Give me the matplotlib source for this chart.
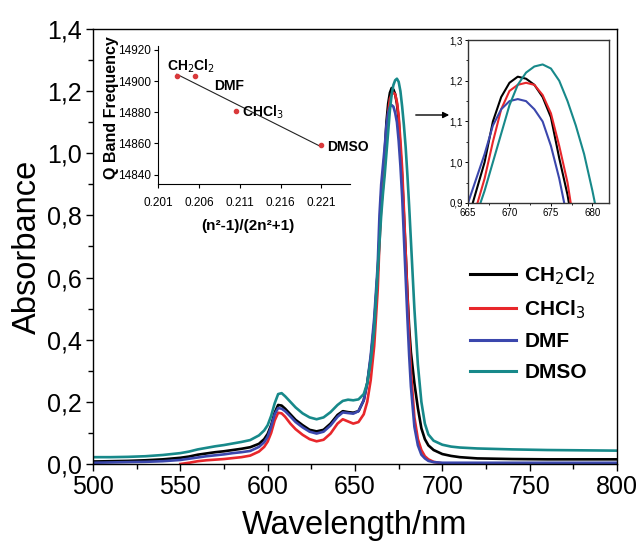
import numpy as np
import matplotlib
matplotlib.use("Agg")
import matplotlib.pyplot as plt
from matplotlib import font_manager
from matplotlib.ticker import MultipleLocator, FuncFormatter

names = {f.name for f in font_manager.fontManager.ttflist}
NARROW = 'Liberation Sans Narrow' if 'Liberation Sans Narrow' in names else 'Liberation Sans'
plt.rcParams['font.family'] = ['Liberation Sans', 'DejaVu Sans']

# ---------------- data ----------------
wavelength = [500, 510, 520, 530, 540, 550, 555, 560, 565, 570, 575, 580, 585, 590, 595,
              598, 600, 602, 604, 606, 608, 610, 613, 616, 620, 624, 628, 632, 636, 640,
              643, 646, 649, 652, 655, 657, 659, 661, 663, 664, 665, 666, 667, 668, 669,
              670, 671, 672, 673, 674, 675, 676, 677, 678, 679, 680, 681, 682, 684, 686,
              688, 690, 692, 695, 700, 705, 710, 720, 740, 760, 780, 800]

ch2cl2 = [0.008, 0.009, 0.010, 0.012, 0.015, 0.020, 0.024, 0.030, 0.034, 0.038, 0.041, 0.045, 0.049, 0.054, 0.065,
          0.080, 0.097, 0.125, 0.165, 0.190, 0.188, 0.178, 0.160, 0.142, 0.125, 0.110, 0.105, 0.110, 0.130, 0.158,
          0.170, 0.167, 0.165, 0.170, 0.205, 0.260, 0.340, 0.450, 0.620, 0.730, 0.860, 0.930, 1.000, 1.100, 1.160,
          1.195, 1.210, 1.205, 1.190, 1.160, 1.110, 1.010, 0.920, 0.800, 0.680, 0.550, 0.440, 0.360, 0.260, 0.180,
          0.115, 0.080, 0.060, 0.045, 0.032, 0.026, 0.022, 0.018, 0.016, 0.015, 0.015, 0.015]

chcl3 = [np.nan, np.nan, np.nan, np.nan, np.nan, 0.000, 0.004, 0.009, 0.012, 0.014, 0.016, 0.019, 0.022, 0.027, 0.040,
         0.055, 0.072, 0.100, 0.140, 0.165, 0.163, 0.152, 0.130, 0.112, 0.094, 0.080, 0.073, 0.078, 0.098, 0.130,
         0.144, 0.137, 0.130, 0.135, 0.160, 0.200, 0.270, 0.380, 0.560, 0.710, 0.830, 0.890, 0.960, 1.050, 1.130,
         1.175, 1.190, 1.195, 1.190, 1.165, 1.120, 1.040, 0.950, 0.820, 0.680, 0.540, 0.410, 0.300, 0.150, 0.080,
         0.045, 0.025, 0.015, 0.007, 0.002, 0.000, 0.000, np.nan, np.nan, np.nan, np.nan, np.nan]

dmf = [0.004, 0.005, 0.006, 0.007, 0.009, 0.013, 0.017, 0.021, 0.025, 0.028, 0.031, 0.035, 0.038, 0.042, 0.055,
       0.070, 0.088, 0.120, 0.160, 0.180, 0.178, 0.170, 0.153, 0.135, 0.118, 0.104, 0.098, 0.104, 0.124, 0.152,
       0.166, 0.164, 0.162, 0.170, 0.205, 0.260, 0.350, 0.470, 0.640, 0.800, 0.900, 0.960, 1.020, 1.090, 1.130,
       1.150, 1.155, 1.150, 1.130, 1.100, 1.040, 0.960, 0.860, 0.730, 0.600, 0.470, 0.350, 0.250, 0.120, 0.060,
       0.030, 0.018, 0.010, 0.006, 0.004, 0.004, 0.004, 0.004, 0.004, 0.004, 0.004, 0.004]

dmso = [0.022, 0.022, 0.023, 0.025, 0.029, 0.035, 0.040, 0.047, 0.052, 0.057, 0.061, 0.066, 0.071, 0.077, 0.092,
        0.108, 0.125, 0.155, 0.195, 0.225, 0.228, 0.218, 0.200, 0.182, 0.163, 0.150, 0.144, 0.150, 0.167, 0.190,
        0.203, 0.207, 0.205, 0.208, 0.225, 0.260, 0.330, 0.430, 0.620, 0.710, 0.800, 0.870, 0.930, 1.000, 1.070,
        1.140, 1.190, 1.220, 1.235, 1.240, 1.230, 1.200, 1.150, 1.090, 1.020, 0.930, 0.830, 0.720, 0.500, 0.320,
        0.200, 0.130, 0.095, 0.075, 0.062, 0.056, 0.053, 0.050, 0.047, 0.045, 0.044, 0.043]

series_names = ['CH$_2$Cl$_2$', 'CHCl$_3$', 'DMF', 'DMSO']
series_colors = ['#000000', '#e8272b', '#3b47ad', '#17898a']

# inset: Q band frequency vs solvent polarity function
solvents = ['CH$_2$Cl$_2$', 'DMF', 'CHCl$_3$', 'DMSO']
polarity = [0.2033, 0.2055, 0.2106, 0.2210]
q_band = [14903, 14903, 14881, 14859]
label_offsets = [(-7, 7), (14, -7), (4, -1), (4, -1.5)]

x_ticks = [500, 550, 600, 650, 700, 750, 800]
y_ticks = [0.0, 0.2, 0.4, 0.6, 0.8, 1.0, 1.2, 1.4]

# ---------------- figure ----------------
fig = plt.figure(figsize=(6.38, 5.46), dpi=100)
W, H = 638, 546

def px_axes(l, t, r, b):
    return [l / W, 1 - b / H, (r - l) / W, (b - t) / H]

ax = fig.add_axes(px_axes(93, 29, 617, 464))
comma = FuncFormatter(lambda v, p: ('%.1f' % v).replace('.', ','))

for y, c, n in zip([ch2cl2, chcl3, dmf, dmso], series_colors, series_names):
    ax.plot(wavelength, y, color=c, lw=1.9, label=n, solid_joinstyle='round')

ax.set_xlim(500, 800)
ax.set_ylim(0, 1.4)
ax.set_xticks(x_ticks)
ax.set_yticks(y_ticks)
ax.xaxis.set_minor_locator(MultipleLocator(25))
ax.yaxis.set_minor_locator(MultipleLocator(0.1))
ax.yaxis.set_major_formatter(comma)
ax.tick_params(which='major', direction='out', length=5, width=1, labelsize=18, pad=3)
ax.tick_params(which='minor', direction='out', length=3.5, width=1)
for s in ax.spines.values():
    s.set_linewidth(1.0)
ax.set_xlabel('Wavelength/nm', fontsize=23.5)
ax.set_ylabel('Absorbance', fontsize=23.5)
ax.yaxis.set_label_coords(-0.095, 0.5)
ax.xaxis.set_label_coords(0.5, -0.105)

leg = ax.legend(loc='upper left', bbox_to_anchor=((462 - 93) / 524, (464 - 256) / 435),
                frameon=False, prop={'weight': 'bold', 'size': 15},
                handlelength=2.2, handletextpad=0.4, labelspacing=0.55, borderaxespad=0)
for line in leg.get_lines():
    line.set_linewidth(2.2)

# arrow to zoomed inset
ax.annotate('', xy=(452, H - 115), xytext=(413, H - 115), xycoords='figure pixels',
            textcoords='figure pixels',
            arrowprops=dict(arrowstyle='-|>', color='black', lw=1.0, mutation_scale=9))

# ---------------- zoom inset ----------------
axz = fig.add_axes(px_axes(468, 40, 609, 203))
for y, c in zip([ch2cl2, chcl3, dmf, dmso], series_colors):
    axz.plot(wavelength, y, color=c, lw=1.5)
axz.set_xlim(665, 682)
axz.set_ylim(0.9, 1.3)
axz.set_xticks([665, 670, 675, 680])
axz.set_yticks([0.9, 1.0, 1.1, 1.2, 1.3])
axz.xaxis.set_minor_locator(MultipleLocator(2.5))
axz.yaxis.set_minor_locator(MultipleLocator(0.05))
axz.yaxis.set_major_formatter(comma)
axz.tick_params(which='major', direction='out', length=2.5, width=0.7, labelsize=7, pad=1)
axz.tick_params(which='minor', direction='out', length=1.5, width=0.6)
for lab in axz.get_xticklabels() + axz.get_yticklabels():
    lab.set_family([NARROW, 'DejaVu Sans'])
for s in axz.spines.values():
    s.set_linewidth(1.0)
    s.set_color('#333333')

# ---------------- polarity inset ----------------
axp = fig.add_axes(px_axes(158, 46, 350, 184))
axp.patch.set_alpha(0)
axp.plot(polarity, q_band, 'o', color='#d9393b', ms=3, zorder=3)
coef = np.polyfit(polarity, q_band, 1)
fx = np.array([polarity[0], polarity[-1]])
axp.plot(fx, np.polyval(coef, fx), color='#222222', lw=0.8)
axp.set_xlim(0.201, 0.2245)
axp.set_ylim(14834, 14922.5)
axp.set_xticks([0.201, 0.206, 0.211, 0.216, 0.221])
axp.set_yticks([14840, 14860, 14880, 14900, 14920])
axp.xaxis.set_major_formatter(FuncFormatter(lambda v, p: '%.3f' % v))
axp.spines['top'].set_visible(False)
axp.spines['right'].set_visible(False)
for s in ['left', 'bottom']:
    axp.spines[s].set_linewidth(0.8)
axp.tick_params(direction='out', length=3, width=0.8, labelsize=8.5, pad=2)
axp.tick_params(axis='x', pad=6)
for lab in axp.get_xticklabels() + axp.get_yticklabels():
    lab.set_family([NARROW, 'DejaVu Sans'])
axp.set_ylabel('Q Band Frequency', fontsize=11.5, fontweight='bold')
axp.yaxis.set_label_coords(-0.205, 0.55)
axp.set_xlabel('(n²-1)/(2n²+1)', fontsize=11, fontweight='bold')
axp.xaxis.set_label_coords(0.47, -0.255)
for name, xv, yv, off in zip(solvents, polarity, q_band, label_offsets):
    axp.annotate(name, xy=(xv, yv), xytext=off, textcoords='offset points',
                 ha='left', va='center', fontsize=10, fontweight='bold', annotation_clip=False)

fig.savefig('out.png', dpi=100)
